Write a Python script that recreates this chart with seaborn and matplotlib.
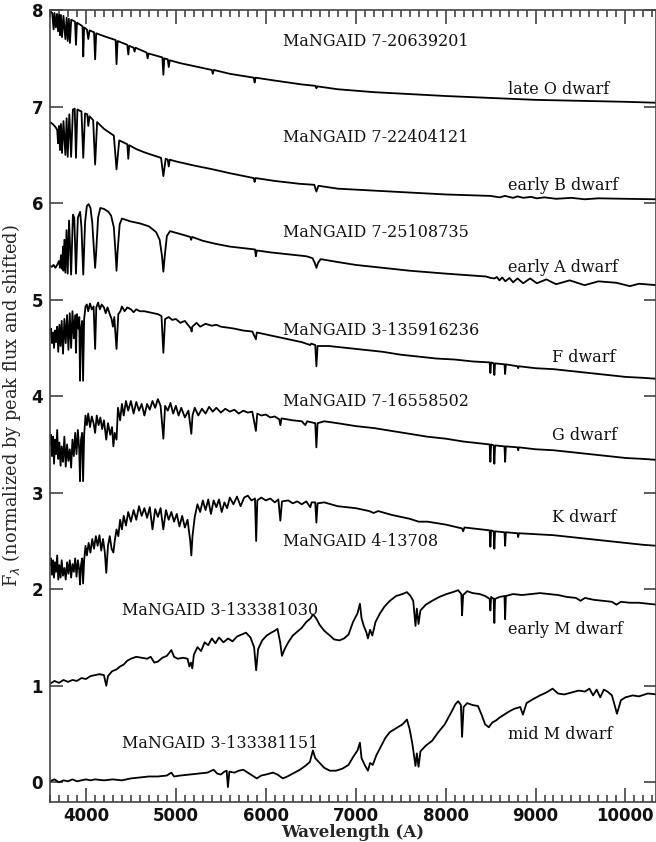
"""
MaNGA stellar spectra sequence: late O dwarf down to mid M dwarf,
each normalised by its peak flux and shifted vertically.
"""
import matplotlib
matplotlib.use("Agg")
import matplotlib.pyplot as plt
from matplotlib.ticker import MultipleLocator
import pandas as pd
import seaborn as sns

# (wavelength [A], shifted flux)
late_o = [
    (3600, 7.99), (3625, 7.97), (3640, 7.80), (3650, 7.97), (3665, 7.82), (3678, 7.96),
    (3690, 7.78), (3702, 7.95), (3712, 7.74), (3722, 7.95), (3734, 7.72), (3750, 7.94),
    (3771, 7.70), (3785, 7.92), (3797, 7.68), (3810, 7.91), (3822, 7.66), (3836, 7.90),
    (3860, 7.89), (3878, 7.88), (3889, 7.64), (3900, 7.87), (3950, 7.84), (3962, 7.83),
    (3970, 7.52), (3980, 7.82), (4010, 7.80), (4026, 7.70), (4040, 7.79), (4090, 7.77),
    (4102, 7.49), (4114, 7.76), (4200, 7.73), (4330, 7.69), (4340, 7.44), (4352, 7.68),
    (4460, 7.64), (4471, 7.54), (4482, 7.63), (4530, 7.61), (4541, 7.57), (4552, 7.61),
    (4675, 7.56), (4686, 7.50), (4697, 7.55), (4850, 7.51), (4861, 7.33), (4872, 7.50),
    (4910, 7.49), (4921, 7.41), (4932, 7.48), (5050, 7.45), (5200, 7.42), (5400, 7.38),
    (5411, 7.34), (5422, 7.38), (5600, 7.34), (5866, 7.30), (5876, 7.25), (5886, 7.30),
    (6100, 7.27), (6400, 7.23), (6553, 7.215), (6563, 7.19), (6573, 7.21), (6800, 7.18),
    (7200, 7.15), (7600, 7.13), (8000, 7.11), (8500, 7.09), (9000, 7.07), (9500, 7.06),
    (10000, 7.05), (10350, 7.04),
]

early_b = [
    (3600, 6.84), (3630, 6.82), (3660, 6.79), (3680, 6.76), (3690, 6.62), (3700, 6.80),
    (3712, 6.55), (3722, 6.82), (3734, 6.52), (3750, 6.85), (3771, 6.50), (3785, 6.88),
    (3797, 6.48), (3815, 6.92), (3835, 6.48), (3855, 6.97), (3875, 6.98), (3889, 6.47),
    (3905, 6.97), (3925, 6.96), (3950, 6.95), (3970, 6.47), (3990, 6.93), (4015, 6.92),
    (4026, 6.80), (4040, 6.90), (4080, 6.86), (4102, 6.40), (4124, 6.84), (4200, 6.77),
    (4310, 6.70), (4340, 6.35), (4370, 6.65), (4460, 6.61), (4471, 6.46), (4482, 6.60),
    (4560, 6.56), (4640, 6.53), (4700, 6.51), (4835, 6.47), (4861, 6.28), (4887, 6.46),
    (4910, 6.45), (4921, 6.38), (4932, 6.45), (5012, 6.43), (5200, 6.39), (5412, 6.35),
    (5600, 6.31), (5866, 6.26), (5876, 6.22), (5886, 6.26), (6100, 6.23), (6380, 6.20),
    (6540, 6.19), (6563, 6.12), (6586, 6.18), (6800, 6.15), (7200, 6.13), (7600, 6.11),
    (8000, 6.09), (8500, 6.075), (8600, 6.06), (8660, 6.075), (8750, 6.055), (8800, 6.07),
    (8863, 6.055), (8950, 6.065), (9015, 6.05), (9100, 6.06), (9229, 6.045), (9400, 6.055),
    (9546, 6.04), (9700, 6.05), (10000, 6.045), (10350, 6.04),
]

early_a = [
    (3600, 5.35), (3620, 5.34), (3640, 5.36), (3660, 5.33), (3680, 5.36), (3700, 5.40),
    (3712, 5.33), (3722, 5.46), (3734, 5.32), (3745, 5.55), (3750, 5.30), (3760, 5.62),
    (3771, 5.28), (3784, 5.72), (3797, 5.27), (3812, 5.82), (3835, 5.26), (3855, 5.88),
    (3870, 5.85), (3889, 5.27), (3910, 5.85), (3935, 5.91), (3950, 5.75), (3970, 5.26),
    (3990, 5.80), (4010, 5.97), (4030, 5.99), (4050, 5.95), (4070, 5.80), (4090, 5.50),
    (4102, 5.33), (4114, 5.50), (4135, 5.85), (4160, 5.95), (4200, 5.94), (4250, 5.91),
    (4280, 5.87), (4310, 5.75), (4328, 5.50), (4340, 5.30), (4352, 5.50), (4375, 5.78),
    (4400, 5.84), (4500, 5.81), (4600, 5.79), (4700, 5.76), (4780, 5.70), (4820, 5.62),
    (4846, 5.45), (4861, 5.29), (4876, 5.45), (4900, 5.66), (4935, 5.71), (5050, 5.68),
    (5160, 5.65), (5170, 5.62), (5180, 5.65), (5300, 5.61), (5434, 5.58), (5600, 5.55),
    (5880, 5.52), (5890, 5.45), (5900, 5.51), (6050, 5.49), (6250, 5.47), (6450, 5.45),
    (6520, 5.43), (6545, 5.38), (6563, 5.33), (6581, 5.38), (6610, 5.42), (6800, 5.39),
    (7000, 5.36), (7300, 5.33), (7600, 5.30), (8000, 5.27), (8300, 5.25), (8450, 5.24),
    (8502, 5.225), (8545, 5.22), (8570, 5.235), (8598, 5.20), (8630, 5.23), (8665, 5.19),
    (8710, 5.225), (8750, 5.18), (8800, 5.22), (8863, 5.17), (8940, 5.22), (9015, 5.17),
    (9120, 5.21), (9229, 5.16), (9380, 5.20), (9546, 5.15), (9700, 5.19), (9900, 5.175),
    (10049, 5.14), (10150, 5.165), (10350, 5.15),
]

f_dwarf = [
    (3600, 4.62), (3612, 4.70), (3622, 4.55), (3634, 4.66), (3645, 4.50), (3656, 4.68),
    (3668, 4.56), (3680, 4.72), (3692, 4.46), (3705, 4.74), (3718, 4.52), (3730, 4.78),
    (3745, 4.44), (3760, 4.80), (3775, 4.55), (3790, 4.84), (3805, 4.48), (3820, 4.86),
    (3835, 4.50), (3850, 4.88), (3865, 4.60), (3880, 4.84), (3889, 4.45), (3900, 4.85),
    (3915, 4.70), (3926, 4.82), (3934, 4.16), (3945, 4.70), (3958, 4.78), (3968, 4.16),
    (3980, 4.80), (3995, 4.93), (4010, 4.95), (4025, 4.88), (4045, 4.96), (4065, 4.90),
    (4085, 4.93), (4102, 4.49), (4115, 4.92), (4135, 4.97), (4155, 4.90), (4175, 4.95),
    (4200, 4.92), (4220, 4.86), (4240, 4.92), (4265, 4.85), (4285, 4.80), (4300, 4.72),
    (4315, 4.82), (4340, 4.49), (4360, 4.85), (4383, 4.88), (4400, 4.93), (4430, 4.88),
    (4460, 4.92), (4500, 4.90), (4530, 4.87), (4560, 4.90), (4600, 4.88), (4650, 4.88),
    (4700, 4.87), (4750, 4.86), (4800, 4.85), (4840, 4.83), (4861, 4.45), (4880, 4.80),
    (4920, 4.82), (4960, 4.79), (5000, 4.80), (5050, 4.76), (5100, 4.78), (5167, 4.70),
    (5175, 4.67), (5183, 4.72), (5230, 4.76), (5270, 4.72), (5330, 4.75), (5400, 4.73),
    (5450, 4.74), (5500, 4.72), (5580, 4.71), (5650, 4.70), (5750, 4.68), (5850, 4.67),
    (5890, 4.59), (5900, 4.66), (6000, 4.64), (6100, 4.62), (6200, 4.60), (6300, 4.58),
    (6400, 4.56), (6495, 4.53), (6505, 4.545), (6550, 4.53), (6563, 4.31), (6576, 4.52),
    (6700, 4.52), (6900, 4.50), (7100, 4.48), (7300, 4.46), (7500, 4.43), (7700, 4.41),
    (7900, 4.39), (8100, 4.38), (8300, 4.36), (8490, 4.35), (8498, 4.24), (8506, 4.35),
    (8535, 4.34), (8542, 4.22), (8550, 4.34), (8655, 4.33), (8662, 4.23), (8670, 4.33),
    (8800, 4.31), (8807, 4.29), (8815, 4.31), (9000, 4.29), (9200, 4.28), (9400, 4.26),
    (9600, 4.24), (9800, 4.22), (10000, 4.20), (10200, 4.19), (10350, 4.18),
]

g_dwarf = [
    (3600, 3.50), (3612, 3.60), (3622, 3.38), (3634, 3.58), (3645, 3.30), (3656, 3.55),
    (3668, 3.40), (3680, 3.65), (3692, 3.35), (3705, 3.52), (3718, 3.28), (3730, 3.48),
    (3745, 3.32), (3760, 3.58), (3775, 3.27), (3790, 3.50), (3805, 3.33), (3820, 3.45),
    (3835, 3.26), (3850, 3.55), (3865, 3.38), (3880, 3.62), (3895, 3.40), (3910, 3.65),
    (3925, 3.45), (3934, 3.12), (3945, 3.55), (3958, 3.62), (3968, 3.12), (3980, 3.60),
    (3995, 3.80), (4010, 3.70), (4025, 3.82), (4045, 3.68), (4065, 3.79), (4085, 3.72),
    (4102, 3.62), (4120, 3.80), (4140, 3.70), (4160, 3.78), (4180, 3.66), (4200, 3.75),
    (4226, 3.55), (4245, 3.72), (4270, 3.60), (4290, 3.68), (4305, 3.48), (4320, 3.62),
    (4340, 3.55), (4356, 3.88), (4380, 3.75), (4400, 3.92), (4420, 3.80), (4445, 3.95),
    (4470, 3.85), (4500, 3.95), (4530, 3.82), (4560, 3.94), (4590, 3.85), (4620, 3.92),
    (4650, 3.80), (4680, 3.92), (4710, 3.86), (4740, 3.95), (4770, 3.88), (4800, 3.97),
    (4830, 3.90), (4861, 3.56), (4880, 3.90), (4910, 3.85), (4940, 3.93), (4970, 3.82),
    (5000, 3.90), (5030, 3.80), (5060, 3.88), (5100, 3.78), (5140, 3.85), (5172, 3.61),
    (5185, 3.80), (5210, 3.88), (5250, 3.80), (5290, 3.87), (5330, 3.82), (5370, 3.89),
    (5410, 3.84), (5450, 3.88), (5500, 3.83), (5550, 3.87), (5600, 3.84), (5650, 3.86),
    (5700, 3.82), (5750, 3.85), (5800, 3.83), (5850, 3.84), (5890, 3.64), (5905, 3.82),
    (5950, 3.80), (6000, 3.81), (6050, 3.78), (6100, 3.79), (6150, 3.76), (6162, 3.70),
    (6175, 3.77), (6300, 3.75), (6400, 3.74), (6440, 3.70), (6460, 3.74), (6550, 3.72),
    (6563, 3.47), (6576, 3.72), (6650, 3.74), (6800, 3.72), (7000, 3.69), (7200, 3.67),
    (7400, 3.64), (7600, 3.61), (7800, 3.58), (8000, 3.56), (8200, 3.53), (8400, 3.51),
    (8490, 3.50), (8498, 3.32), (8506, 3.50), (8535, 3.49), (8542, 3.30), (8550, 3.49),
    (8655, 3.48), (8662, 3.32), (8670, 3.48), (8800, 3.47), (8807, 3.44), (8815, 3.47),
    (9000, 3.45), (9200, 3.44), (9400, 3.42), (9600, 3.40), (9800, 3.38), (10000, 3.36),
    (10200, 3.35), (10350, 3.34),
]

k_dwarf = [
    (3600, 2.25), (3612, 2.32), (3622, 2.15), (3634, 2.30), (3645, 2.12), (3656, 2.28),
    (3668, 2.18), (3680, 2.35), (3692, 2.10), (3705, 2.25), (3718, 2.12), (3730, 2.30),
    (3745, 2.14), (3760, 2.22), (3775, 2.10), (3790, 2.28), (3805, 2.16), (3820, 2.30),
    (3835, 2.12), (3850, 2.26), (3865, 2.18), (3880, 2.32), (3895, 2.13), (3910, 2.30),
    (3925, 2.20), (3934, 2.05), (3945, 2.25), (3958, 2.32), (3968, 2.06), (3980, 2.30),
    (3995, 2.45), (4010, 2.35), (4030, 2.48), (4050, 2.38), (4070, 2.52), (4090, 2.42),
    (4110, 2.55), (4130, 2.45), (4150, 2.56), (4170, 2.40), (4190, 2.52), (4210, 2.38),
    (4226, 2.17), (4245, 2.45), (4265, 2.55), (4285, 2.42), (4305, 2.38), (4320, 2.50),
    (4340, 2.62), (4360, 2.55), (4380, 2.72), (4400, 2.62), (4420, 2.76), (4445, 2.66),
    (4470, 2.80), (4500, 2.70), (4530, 2.82), (4560, 2.72), (4590, 2.86), (4620, 2.76),
    (4650, 2.84), (4680, 2.74), (4710, 2.85), (4740, 2.62), (4770, 2.83), (4800, 2.75),
    (4830, 2.84), (4860, 2.62), (4890, 2.82), (4920, 2.72), (4950, 2.80), (4980, 2.70),
    (5010, 2.78), (5040, 2.65), (5070, 2.76), (5100, 2.64), (5130, 2.72), (5160, 2.50),
    (5172, 2.35), (5185, 2.55), (5210, 2.75), (5240, 2.88), (5270, 2.80), (5300, 2.92),
    (5330, 2.82), (5360, 2.93), (5390, 2.78), (5420, 2.92), (5450, 2.85), (5480, 2.93),
    (5510, 2.80), (5540, 2.90), (5570, 2.84), (5600, 2.95), (5640, 2.88), (5680, 2.96),
    (5720, 2.86), (5760, 2.95), (5800, 2.97), (5840, 2.92), (5880, 2.94), (5893, 2.50),
    (5906, 2.92), (5950, 2.95), (6000, 2.92), (6050, 2.94), (6100, 2.90), (6140, 2.93),
    (6162, 2.71), (6180, 2.91), (6250, 2.92), (6300, 2.89), (6350, 2.91), (6400, 2.88),
    (6450, 2.91), (6495, 2.85), (6510, 2.90), (6550, 2.90), (6563, 2.69), (6576, 2.89),
    (6650, 2.90), (6800, 2.86), (7000, 2.84), (7150, 2.81), (7200, 2.79), (7250, 2.81),
    (7400, 2.77), (7600, 2.73), (7700, 2.70), (7800, 2.70), (8000, 2.67), (8183, 2.63),
    (8195, 2.60), (8210, 2.64), (8400, 2.62), (8490, 2.61), (8498, 2.44), (8506, 2.61),
    (8535, 2.60), (8542, 2.42), (8550, 2.60), (8655, 2.59), (8662, 2.45), (8670, 2.59),
    (8800, 2.58), (8807, 2.54), (8815, 2.58), (9000, 2.57), (9200, 2.56), (9400, 2.54),
    (9600, 2.52), (9800, 2.50), (10000, 2.48), (10200, 2.46), (10350, 2.45),
]

early_m = [
    (3600, 1.02), (3650, 1.05), (3700, 1.03), (3750, 1.06), (3800, 1.04), (3850, 1.06),
    (3900, 1.05), (3950, 1.08), (4000, 1.07), (4050, 1.10), (4100, 1.11), (4150, 1.12),
    (4200, 1.11), (4226, 1.00), (4245, 1.10), (4290, 1.15), (4340, 1.17), (4380, 1.20),
    (4420, 1.22), (4460, 1.26), (4500, 1.28), (4560, 1.30), (4620, 1.29), (4680, 1.28),
    (4720, 1.30), (4760, 1.24), (4800, 1.25), (4850, 1.29), (4900, 1.31), (4950, 1.37),
    (4980, 1.30), (5020, 1.28), (5080, 1.29), (5130, 1.28), (5150, 1.20), (5167, 1.24),
    (5183, 1.18), (5200, 1.32), (5240, 1.40), (5280, 1.36), (5320, 1.45), (5360, 1.42),
    (5400, 1.49), (5440, 1.44), (5480, 1.50), (5530, 1.45), (5580, 1.49), (5630, 1.46),
    (5680, 1.51), (5730, 1.53), (5780, 1.55), (5830, 1.50), (5870, 1.40), (5893, 1.16),
    (5915, 1.38), (5960, 1.47), (6010, 1.52), (6060, 1.55), (6100, 1.57), (6130, 1.59),
    (6160, 1.45), (6180, 1.31), (6210, 1.38), (6250, 1.45), (6300, 1.52), (6350, 1.56),
    (6400, 1.60), (6450, 1.66), (6500, 1.70), (6524, 1.74), (6560, 1.70), (6600, 1.63),
    (6650, 1.57), (6713, 1.52), (6760, 1.48), (6820, 1.47), (6870, 1.49), (6920, 1.53),
    (6970, 1.66), (7020, 1.75), (7047, 1.85), (7065, 1.70), (7090, 1.62), (7120, 1.55),
    (7136, 1.49), (7160, 1.58), (7185, 1.52), (7220, 1.66), (7270, 1.75), (7320, 1.82),
    (7380, 1.88), (7450, 1.93), (7520, 1.95), (7570, 1.97), (7610, 1.93), (7640, 1.88),
    (7665, 1.62), (7680, 1.80), (7699, 1.64), (7720, 1.78), (7780, 1.84), (7850, 1.88),
    (7930, 1.92), (8010, 1.95), (8080, 1.97), (8140, 1.99), (8175, 1.95), (8183, 1.73),
    (8195, 1.94), (8240, 1.98), (8300, 1.96), (8380, 1.95), (8440, 1.93), (8490, 1.90),
    (8498, 1.78), (8506, 1.92), (8535, 1.90), (8542, 1.65), (8550, 1.90), (8600, 1.92),
    (8655, 1.93), (8662, 1.69), (8670, 1.93), (8750, 1.95), (8850, 1.94), (8950, 1.95),
    (9050, 1.96), (9150, 1.95), (9250, 1.94), (9350, 1.92), (9450, 1.91), (9500, 1.88),
    (9550, 1.91), (9650, 1.89), (9750, 1.88), (9850, 1.87), (9900, 1.84), (9950, 1.87),
    (10050, 1.86), (10150, 1.86), (10250, 1.85), (10350, 1.84),
]

mid_m = [
    (3600, 0.01), (3650, 0.03), (3700, 0.00), (3750, 0.02), (3800, 0.01), (3850, 0.03),
    (3900, 0.01), (3950, 0.02), (4000, 0.03), (4050, 0.02), (4100, 0.03), (4200, 0.02),
    (4300, 0.03), (4400, 0.02), (4500, 0.04), (4600, 0.05), (4700, 0.06), (4800, 0.06),
    (4900, 0.07), (4950, 0.10), (4980, 0.06), (5050, 0.07), (5150, 0.08), (5250, 0.09),
    (5350, 0.10), (5420, 0.13), (5460, 0.09), (5500, 0.08), (5540, 0.11), (5565, 0.12),
    (5579, -0.05), (5595, 0.11), (5650, 0.10), (5700, 0.12), (5750, 0.13), (5800, 0.10),
    (5850, 0.07), (5900, 0.04), (5950, 0.07), (6000, 0.08), (6080, 0.10), (6130, 0.08),
    (6190, 0.04), (6240, 0.06), (6300, 0.09), (6380, 0.13), (6440, 0.17), (6490, 0.21),
    (6524, 0.33), (6550, 0.25), (6600, 0.20), (6650, 0.15), (6713, 0.12), (6780, 0.12),
    (6850, 0.14), (6920, 0.18), (6970, 0.26), (7020, 0.33), (7047, 0.41), (7065, 0.25),
    (7100, 0.18), (7136, 0.12), (7160, 0.20), (7190, 0.18), (7230, 0.28), (7280, 0.37),
    (7330, 0.46), (7380, 0.52), (7450, 0.56), (7520, 0.60), (7570, 0.65), (7600, 0.55),
    (7630, 0.40), (7665, 0.17), (7680, 0.30), (7699, 0.16), (7720, 0.32), (7780, 0.38),
    (7850, 0.43), (7920, 0.52), (7990, 0.60), (8060, 0.72), (8110, 0.81), (8140, 0.84),
    (8170, 0.80), (8183, 0.47), (8200, 0.78), (8240, 0.82), (8300, 0.80), (8360, 0.79),
    (8400, 0.70), (8440, 0.60), (8480, 0.57), (8520, 0.62), (8560, 0.64), (8600, 0.67),
    (8650, 0.70), (8700, 0.73), (8760, 0.76), (8830, 0.78), (8860, 0.70), (8900, 0.82),
    (8970, 0.86), (9050, 0.90), (9120, 0.93), (9190, 0.97), (9250, 0.92), (9320, 0.91),
    (9400, 0.93), (9480, 0.95), (9550, 0.94), (9600, 0.97), (9640, 0.90), (9680, 0.96),
    (9720, 0.88), (9760, 0.96), (9800, 0.94), (9850, 0.90), (9906, 0.71), (9950, 0.85),
    (10000, 0.88), (10080, 0.90), (10150, 0.89), (10250, 0.92), (10350, 0.91),
]

star_types = ["late O dwarf", "early B dwarf", "early A dwarf", "F dwarf",
              "G dwarf", "K dwarf", "early M dwarf", "mid M dwarf"]
manga_ids = ["MaNGAID 7-20639201", "MaNGAID 7-22404121", "MaNGAID 7-25108735",
             "MaNGAID 3-135916236", "MaNGAID 7-16558502", "MaNGAID 4-13708",
             "MaNGAID 3-133381030", "MaNGAID 3-133381151"]
spectra = [late_o, early_b, early_a, f_dwarf, g_dwarf, k_dwarf, early_m, mid_m]

# label anchor points (left edge, vertical centre) in data coordinates
id_x = [6191, 6191, 6191, 6191, 6191, 6191, 4400, 4400]
id_y = [7.67, 6.68, 5.70, 4.68, 3.94, 2.49, 1.78, 0.40]
type_x = [8693, 8693, 8693, 9182, 9182, 9182, 8693, 8693]
type_y = [7.18, 6.18, 5.33, 4.40, 3.59, 2.74, 1.58, 0.50]

frames = []
for name, pts in zip(star_types, spectra):
    df = pd.DataFrame(pts, columns=["wave", "flux"])
    df["star"] = name
    frames.append(df)
data = pd.concat(frames, ignore_index=True)

sns.set_theme(style="ticks")
plt.rcParams["font.family"] = ["DejaVu Serif", "DejaVu Sans"]

fig = plt.figure(figsize=(6.56, 8.42), dpi=100)
ax = fig.add_axes([0.0762, 0.048, 0.9238, 0.940])

sns.lineplot(data=data, x="wave", y="flux", units="star", estimator=None,
             sort=False, color="black", linewidth=1.3, ax=ax)

for txt, x, y in zip(manga_ids, id_x, id_y):
    ax.text(x, y, txt, ha="left", va="center", fontsize=11.5, color="#111111")
for txt, x, y in zip(star_types, type_x, type_y):
    ax.text(x, y, txt, ha="left", va="center", fontsize=11.5, color="#111111")

ax.set_xlim(3600, 10340)
ax.set_ylim(-0.2, 8.0)
ax.xaxis.set_major_locator(MultipleLocator(1000))
ax.xaxis.set_minor_locator(MultipleLocator(100))
ax.yaxis.set_major_locator(MultipleLocator(1))

ax.tick_params(which="both", direction="in", top=True, right=True,
               colors="#333333", width=1.1, labelcolor="#111111")
ax.tick_params(which="major", axis="x", length=10, pad=4)
ax.tick_params(which="minor", axis="x", length=5)
ax.tick_params(which="major", axis="y", length=9, pad=5)
for lab in ax.get_xticklabels() + ax.get_yticklabels():
    lab.set_family("DejaVu Sans")
    lab.set_fontweight("bold")
    lab.set_fontsize(12)

for side in ax.spines.values():
    side.set_color("#444444")
    side.set_linewidth(1.2)

ax.set_xlabel("Wavelength (A)", fontsize=12, fontweight="bold", labelpad=-1)
ax.set_ylabel(r"F$_\lambda$ (normalized by peak flux and shifted)", fontsize=12.8,
              labelpad=6)

fig.savefig("out.png", dpi=100)
